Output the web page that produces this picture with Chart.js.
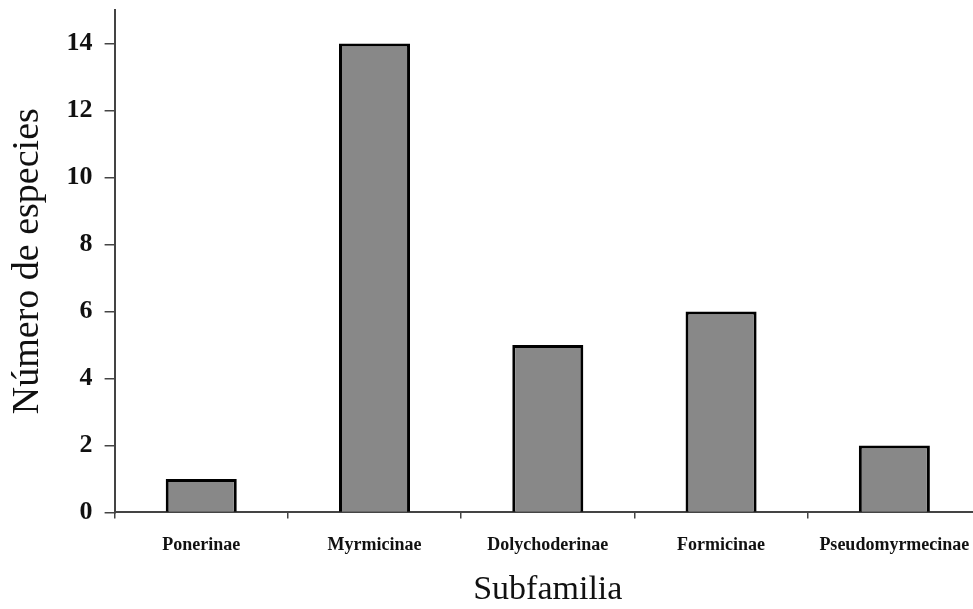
<!DOCTYPE html>
<html>
<head>
<meta charset="utf-8">
<script src="https://cdn.jsdelivr.net/npm/chart.js@4.4.0/dist/chart.umd.min.js"></script>
<style>
  html, body { margin: 0; padding: 0; background: #fff; overflow: hidden; }
  #wrap { width: 973px; height: 609px; overflow: hidden; }
</style>
</head>
<body>
<!-- the plot area runs a few pixels past the right edge, as in the figure -->
<div id="wrap"><canvas id="chart" width="981" height="609"></canvas></div>
<script>
// Data
const subfamilias = ['Ponerinae', 'Myrmicinae', 'Dolychoderinae', 'Formicinae', 'Pseudomyrmecinae'];
const especies = [1, 14, 5, 6, 2];
const yTicks = [0, 2, 4, 6, 8, 10, 12, 14];

const serif = "'Liberation Serif', 'Times New Roman', serif";

const ctx = document.getElementById('chart').getContext('2d');
new Chart(ctx, {
    type: 'bar',
    data: {
        labels: subfamilias,
        datasets: [{
            data: especies,
            backgroundColor: '#888888',
            borderColor: '#000000',
            borderWidth: 3,
            barPercentage: 0.41,
            categoryPercentage: 1.0
        }]
    },
    options: {
        responsive: false,
        animation: false,
        layout: { padding: { left: 5, right: 0, top: 10, bottom: 0 } },
        plugins: {
            legend: { display: false },
            tooltip: { enabled: false }
        },
        scales: {
            x: {
                afterFit: function(axis) {
                    axis.paddingLeft = 0;
                    axis.paddingRight = 0;
                },
                grid: {
                    offset: true,
                    drawOnChartArea: false,
                    drawTicks: true,
                    tickLength: 6,
                    color: '#444',
                    lineWidth: 1.5
                },
                border: { color: '#444', width: 2 },
                ticks: {
                    color: '#111',
                    padding: 16,
                    maxRotation: 0,
                    font: { family: serif, size: 18, weight: 'bold' }
                },
                title: {
                    display: true,
                    text: 'Subfamilia',
                    color: '#111',
                    padding: { top: 1, bottom: 2 },
                    font: { family: serif, size: 34, lineHeight: 1 }
                }
            },
            y: {
                min: 0,
                max: 15,
                afterBuildTicks: function(axis) {
                    axis.ticks = yTicks.map(function(v) { return { value: v }; });
                },
                afterFit: function(axis) {
                    axis.paddingTop = 0;
                    axis.paddingBottom = 0;
                },
                grid: {
                    drawOnChartArea: false,
                    drawTicks: true,
                    tickLength: 10,
                    color: '#444',
                    lineWidth: 1.5
                },
                border: { color: '#444', width: 2 },
                ticks: {
                    color: '#111',
                    padding: 12,
                    font: { family: serif, size: 26, weight: 'bold' }
                },
                title: {
                    display: true,
                    text: 'Número de especies',
                    color: '#111',
                    padding: { top: 0, bottom: 4 },
                    font: { family: serif, size: 38 }
                }
            }
        }
    }
});
</script>
</body>
</html>
